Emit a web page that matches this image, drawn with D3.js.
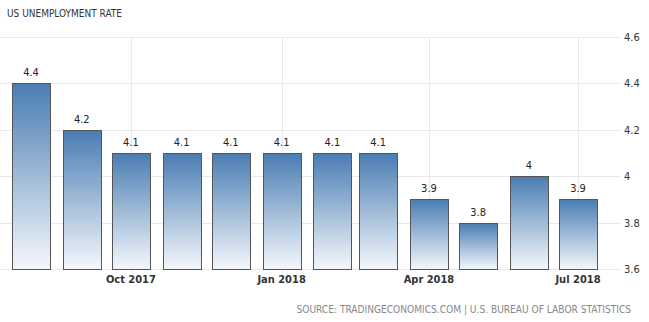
<!DOCTYPE html>
<html>
<head>
<meta charset="utf-8">
<script src="https://cdn.jsdelivr.net/npm/d3@7"></script>
<style>
  body { margin: 0; background: #fff; }
  svg { display: block; font-family: "DejaVu Sans Condensed", "DejaVu Sans", sans-serif; }
</style>
</head>
<body>
<div id="chart"></div>
<script>
const months = ['2017-08', '2017-09', '2017-10', '2017-11', '2017-12', '2018-01',
                '2018-02', '2018-03', '2018-04', '2018-05', '2018-06', '2018-07'];
const rates = [4.4, 4.2, 4.1, 4.1, 4.1, 4.1, 4.1, 4.1, 3.9, 3.8, 4.0, 3.9];
const xTicks = ['2017-10', '2018-01', '2018-04', '2018-07'];
const yTicks = [3.6, 3.8, 4.0, 4.2, 4.4, 4.6];

const width = 649, height = 322;
const parse = d3.timeParse('%Y-%m');
const data = months.map((m, i) => ({ date: parse(m), value: rates[i] }));

const x = d3.scaleTime()
  .domain([parse('2017-08'), parse('2018-07')])
  .range([31, 578]);
const y = d3.scaleLinear().domain([3.6, 4.6]).range([269, 37]);
const barW = 38;
const gridRight = 621;

const svg = d3.select('#chart').append('svg')
  .attr('width', width)
  .attr('height', height);

const grad = svg.append('defs').append('linearGradient')
  .attr('id', 'barGrad')
  .attr('x1', 0).attr('y1', 0).attr('x2', 0).attr('y2', 1);
grad.append('stop').attr('offset', '0%').attr('stop-color', '#4a7db3');
grad.append('stop').attr('offset', '100%').attr('stop-color', '#f5f8fc');

svg.append('text')
  .attr('x', 7).attr('y', 17)
  .attr('font-size', 10)
  .attr('fill', '#333')
  .text('US UNEMPLOYMENT RATE');

// horizontal grid
svg.append('g')
  .selectAll('line')
  .data(yTicks)
  .join('line')
  .attr('x1', 0).attr('x2', gridRight)
  .attr('y1', d => Math.round(y(d)) + 0.5)
  .attr('y2', d => Math.round(y(d)) + 0.5)
  .attr('stroke', '#e9e9e9');

// vertical grid
svg.append('g')
  .selectAll('line')
  .data(xTicks.map(parse))
  .join('line')
  .attr('x1', d => Math.round(x(d)) + 0.5)
  .attr('x2', d => Math.round(x(d)) + 0.5)
  .attr('y1', 37).attr('y2', 273)
  .attr('stroke', '#e9e9e9');

// y axis labels on the right
svg.append('g')
  .selectAll('text')
  .data(yTicks)
  .join('text')
  .attr('x', 624)
  .attr('y', d => y(d) + 4)
  .attr('font-size', 11)
  .attr('fill', '#333')
  .text(d => +d.toFixed(1));

// x axis labels
svg.append('g')
  .selectAll('text')
  .data(xTicks.map(parse))
  .join('text')
  .attr('x', d => x(d))
  .attr('y', 283)
  .attr('text-anchor', 'middle')
  .attr('font-size', 11)
  .attr('font-weight', 'bold')
  .attr('fill', '#333')
  .text(d3.timeFormat('%b %Y'));

// bars
svg.append('g')
  .selectAll('rect')
  .data(data)
  .join('rect')
  .attr('x', d => Math.round(x(d.date) - barW / 2) + 0.5)
  .attr('y', d => Math.round(y(d.value)) + 0.5)
  .attr('width', barW)
  .attr('height', d => Math.round(y(3.6)) - Math.round(y(d.value)))
  .attr('fill', 'url(#barGrad)')
  .attr('stroke', '#555')
  .attr('stroke-width', 1);

// value labels
svg.append('g')
  .selectAll('text')
  .data(data)
  .join('text')
  .attr('x', d => x(d.date))
  .attr('y', d => y(d.value) - 7)
  .attr('text-anchor', 'middle')
  .attr('font-size', 11)
  .attr('fill', '#222')
  .text(d => +d.value.toFixed(1));

svg.append('text')
  .attr('x', 631).attr('y', 313)
  .attr('text-anchor', 'end')
  .attr('font-size', 10.1)
  .attr('fill', '#888')
  .text('SOURCE: TRADINGECONOMICS.COM | U.S. BUREAU OF LABOR STATISTICS');
</script>
</body>
</html>
